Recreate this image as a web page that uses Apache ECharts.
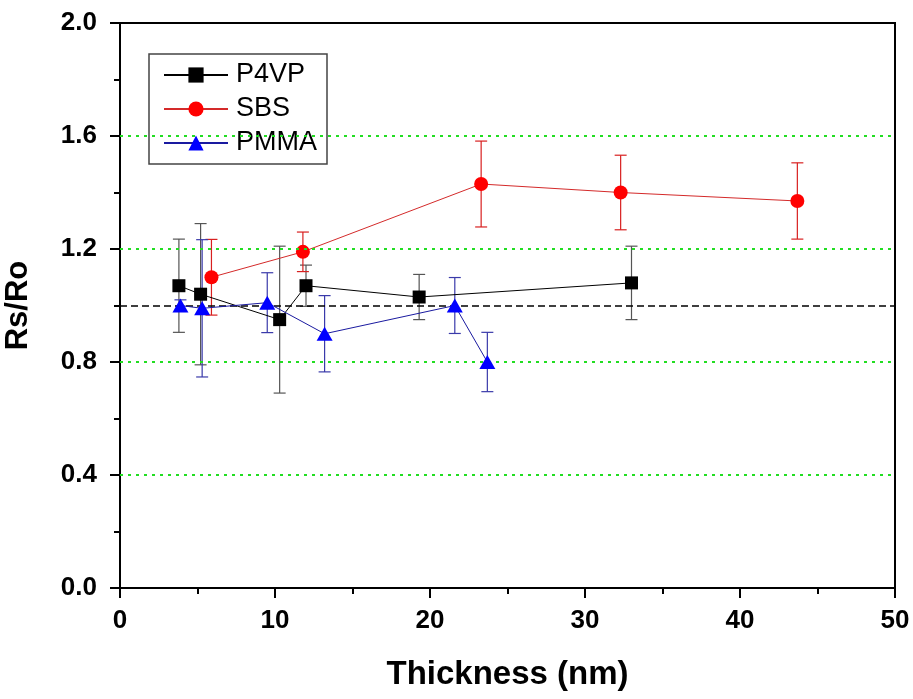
<!DOCTYPE html>
<html lang="en">
<head>
    <meta charset="UTF-8">
    <title>Rs/Ro vs Thickness</title>
    <script src="https://cdn.jsdelivr.net/npm/echarts/dist/echarts.min.js"></script>
    <style>
        body { margin: 0; background: #fff; }
        #chart { width: 913px; height: 699px; }
    </style>
</head>
<body>
    <div id="chart"></div>
    <script>
        // values: thickness (nm), Rs/Ro, error (+/-)
        const p4vpX = [3.8, 5.2, 10.3, 12.0, 19.3, 33.0];
        const p4vpY = [1.07, 1.04, 0.95, 1.07, 1.03, 1.08];
        const p4vpErr = [0.165, 0.25, 0.26, 0.073, 0.08, 0.13];

        const sbsX = [5.9, 11.8, 23.3, 32.3, 43.7];
        const sbsY = [1.10, 1.19, 1.43, 1.40, 1.37];
        const sbsErr = [0.134, 0.07, 0.152, 0.132, 0.135];

        const pmmaX = [3.9, 5.3, 9.5, 13.2, 21.6, 23.7];
        const pmmaY = [1.00, 0.99, 1.01, 0.90, 1.00, 0.80];
        const pmmaErr = [0.02, 0.243, 0.106, 0.135, 0.099, 0.105];

        const refLevel = 1.0;
        const gridLevels = [0.4, 0.8, 1.2, 1.6];

        const pts = (xs, ys) => xs.map((x, i) => [x, ys[i]]);
        const errPts = (xs, ys, es) => xs.map((x, i) => [x, ys[i], es[i]]);

        function errorBars(color) {
            return function (params, api) {
                const x = api.value(0), y = api.value(1), e = api.value(2);
                const top = api.coord([x, y + e]);
                const bot = api.coord([x, y - e]);
                const w = 6;
                const style = { stroke: color, lineWidth: 1.2 };
                return {
                    type: 'group',
                    children: [
                        { type: 'line', shape: { x1: top[0], y1: top[1], x2: bot[0], y2: bot[1] }, style: style },
                        { type: 'line', shape: { x1: top[0] - w, y1: top[1], x2: top[0] + w, y2: top[1] }, style: style },
                        { type: 'line', shape: { x1: bot[0] - w, y1: bot[1], x2: bot[0] + w, y2: bot[1] }, style: style }
                    ]
                };
            };
        }

        const chart = echarts.init(document.getElementById('chart'));

        const tickFont = { fontFamily: 'Arial, "Liberation Sans", sans-serif', fontWeight: 'bold', fontSize: 26, color: '#000' };

        const option = {
            animation: false,
            backgroundColor: '#fff',
            grid: {
                left: 120, right: 18, top: 23, bottom: 111,
                outerBoundsMode: 'none', containLabel: false,
                show: true, borderColor: '#000', borderWidth: 2
            },
            legend: {
                data: ['P4VP', 'SBS', 'PMMA'],
                orient: 'vertical',
                left: 149,
                top: 54,
                padding: [6, 10, 6, 14],
                itemGap: 4,
                itemWidth: 64,
                itemHeight: 19,
                borderColor: '#444',
                borderWidth: 1.5,
                backgroundColor: '#fff',
                textStyle: { fontFamily: 'Arial, "Liberation Sans", sans-serif', fontSize: 27, color: '#000', lineHeight: 30, padding: [0, 0, 0, 3] }
            },
            xAxis: {
                type: 'value',
                min: 0, max: 50, interval: 10,
                name: 'Thickness (nm)',
                nameLocation: 'middle',
                nameGap: 70,
                nameTextStyle: { fontFamily: 'Arial, "Liberation Sans", sans-serif', fontWeight: 'bold', fontSize: 33, color: '#000' },
                axisLine: { lineStyle: { color: '#000', width: 2 } },
                axisTick: { length: 10, lineStyle: { color: '#000', width: 2 } },
                minorTick: { show: true, splitNumber: 2, length: 6, lineStyle: { color: '#000', width: 2 } },
                axisLabel: Object.assign({ margin: 20 }, tickFont),
                splitLine: { show: false }
            },
            yAxis: {
                type: 'value',
                min: 0, max: 2, interval: 0.4,
                name: 'Rs/Ro',
                nameLocation: 'middle',
                nameGap: 86,
                nameRotate: 90,
                nameTextStyle: { fontFamily: 'Arial, "Liberation Sans", sans-serif', fontWeight: 'bold', fontSize: 31, color: '#000' },
                axisLine: { lineStyle: { color: '#000', width: 2 } },
                axisTick: { length: 10, lineStyle: { color: '#000', width: 2 } },
                minorTick: { show: true, splitNumber: 2, length: 6, lineStyle: { color: '#000', width: 2 } },
                axisLabel: Object.assign({ margin: 23, formatter: v => v.toFixed(1) }, tickFont),
                splitLine: { show: false }
            },
            series: [
                {
                    type: 'custom', name: 'P4VP err', silent: true, z: 1,
                    renderItem: errorBars('#555'),
                    data: errPts(p4vpX, p4vpY, p4vpErr),
                    markLine: {
                        silent: true, symbol: 'none', label: { show: false },
                        lineStyle: { color: '#22dd22', type: [3, 5], width: 2 },
                        data: gridLevels.map(v => ({ yAxis: v }))
                    }
                },
                { type: 'custom', name: 'SBS err', silent: true, z: 1, renderItem: errorBars('#d82020'), data: errPts(sbsX, sbsY, sbsErr) },
                { type: 'custom', name: 'PMMA err', silent: true, z: 1, renderItem: errorBars('#3a3aaa'), data: errPts(pmmaX, pmmaY, pmmaErr) },
                {
                    type: 'line', name: 'P4VP', z: 3,
                    data: pts(p4vpX, p4vpY),
                    symbol: 'rect', symbolSize: 13,
                    itemStyle: { color: '#000' },
                    lineStyle: { color: '#000', width: 1 },
                    markLine: {
                        silent: true, symbol: 'none', label: { show: false },
                        lineStyle: { color: '#000', type: [7, 4], width: 1.5 },
                        data: [{ yAxis: refLevel }]
                    }
                },
                {
                    type: 'line', name: 'SBS', z: 4,
                    data: pts(sbsX, sbsY),
                    symbol: 'circle', symbolSize: 14,
                    itemStyle: { color: '#ff0000' },
                    lineStyle: { color: '#d42a2a', width: 1 }
                },
                {
                    type: 'line', name: 'PMMA', z: 5,
                    data: pts(pmmaX, pmmaY),
                    symbol: 'triangle', symbolSize: [16, 14],
                    itemStyle: { color: '#0000ff' },
                    lineStyle: { color: '#1a1aa0', width: 1 }
                }
            ]
        };

        chart.setOption(option);
    </script>
</body>
</html>
